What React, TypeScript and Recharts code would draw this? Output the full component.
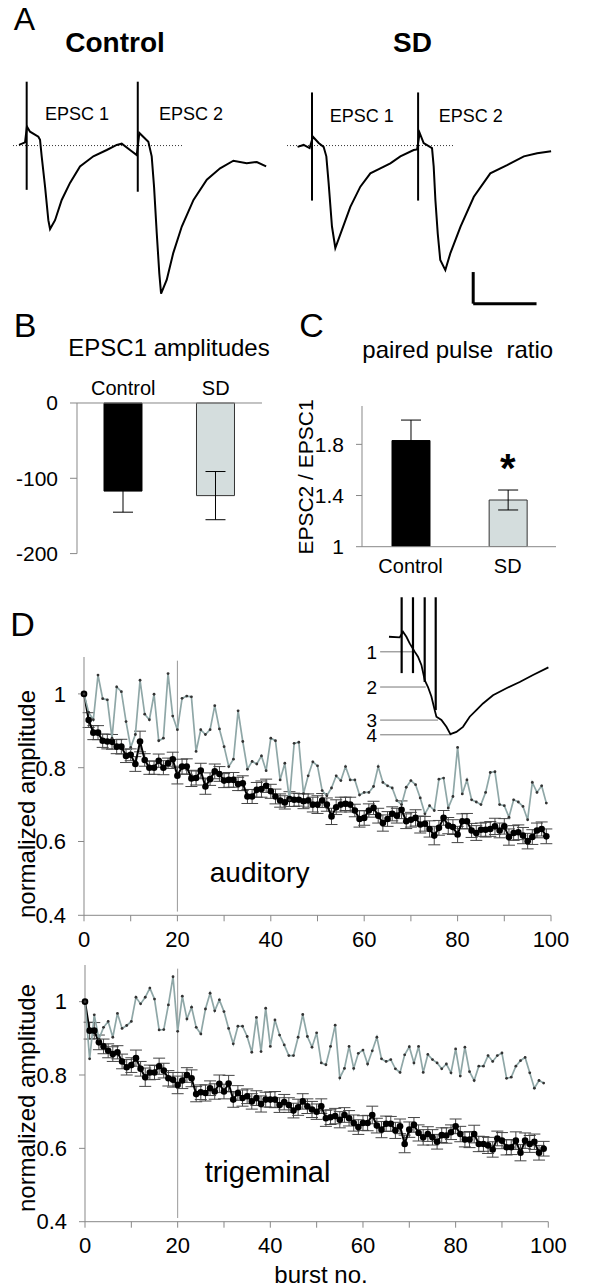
import React from 'react';
import {
  LineChart, Line, XAxis, YAxis, ReferenceLine, BarChart, Bar, Cell, ErrorBar, ComposedChart,
} from 'recharts';

const FONT = '"Liberation Sans", Arial, Helvetica, sans-serif';
const AXIS = '#888';
const GREY_LINE = '#8fa7a7';
const GREY_BAR = '#d4dddd';

// ---- panel A: example traces (t in ms, i in pA, baseline = 0) ----
const ctrlTrace = [
  { t: 0.95, i: 1 }, { t: 1.9, i: 5 }, { t: 2.2, i: 30 }, { t: 2.69, i: 22 }, { t: 4.0, i: 14 },
  { t: 4.27, i: 9 }, { t: 4.53, i: -17 }, { t: 5.06, i: -65 }, { t: 5.58, i: -118 }, { t: 5.85, i: -132 },
  { t: 6.64, i: -118 }, { t: 7.69, i: -86 }, { t: 9.0, i: -59 }, { t: 10.58, i: -33 }, { t: 12.69, i: -17 },
  { t: 14.8, i: -7 }, { t: 16.38, i: 1 }, { t: 17.17, i: 3 }, { t: 18.48, i: -7 }, { t: 19.54, i: -15 },
  { t: 19.95, i: 20 }, { t: 21.37, i: 6 }, { t: 21.9, i: -17 }, { t: 22.27, i: -65 }, { t: 22.7, i: -139 },
  { t: 23.1, i: -202 }, { t: 23.38, i: -234 }, { t: 24.28, i: -212 }, { t: 25.3, i: -170 }, { t: 26.65, i: -128 },
  { t: 28.5, i: -86 }, { t: 30.6, i: -54 }, { t: 32.7, i: -36 }, { t: 34.8, i: -24 }, { t: 36.9, i: -28 },
  { t: 38.5, i: -26 }, { t: 39.97, i: -33 },
];
const ctrlStimT = [2.16, 19.7];
const ctrlStimTop = [101, 101];
const ctrlStimBottom = [-70, -73];
const ctrlBaselineEnd = 26.7;

const sdTrace = [
  { t: 1.67, i: -2 }, { t: 2.62, i: 1 }, { t: 3.57, i: -4 }, { t: 4.1, i: 14 }, { t: 5.0, i: 4 },
  { t: 5.78, i: -2 }, { t: 6.21, i: -17 }, { t: 6.57, i: -59 }, { t: 7.1, i: -128 }, { t: 7.63, i: -162 },
  { t: 8.69, i: -133 }, { t: 10.0, i: -97 }, { t: 11.58, i: -65 }, { t: 13.16, i: -44 }, { t: 14.74, i: -36 },
  { t: 16.32, i: -28 }, { t: 17.9, i: -17 }, { t: 20.0, i: -7 }, { t: 20.54, i: -6 }, { t: 20.95, i: 20 },
  { t: 21.58, i: 4 }, { t: 22.9, i: -4 }, { t: 23.16, i: -33 }, { t: 23.43, i: -86 }, { t: 23.8, i: -139 },
  { t: 24.2, i: -181 }, { t: 25.0, i: -197 }, { t: 25.8, i: -170 }, { t: 27.4, i: -128 }, { t: 29.5, i: -81 },
  { t: 32.1, i: -44 }, { t: 34.75, i: -31 }, { t: 37.4, i: -17 }, { t: 39.5, i: -12 }, { t: 41.7, i: -9 },
];
const sdStimT = [3.95, 20.7];
const sdStimTop = [84, 84];
const sdStimBottom = [-87, -87];
const sdBaselineEnd = 26.3;
const scaleBarMs = 10;
const scaleBarPa = 50;
const scaleBarOrigin = { t: 29.4, i: -250 };

// ---- panel B ----
const ampCats = ['Control', 'SD'];
const ampMean = [-117, -123];
const ampSem = [28, 32];

// ---- panel C ----
const pprCats = ['Control', 'SD'];
const pprMean = [1.83, 1.365];
const pprSem = [0.16, 0.078];

// ---- panel D inset ----
const insetTrace = [
  { t: 0, i: 0.5 }, { t: 1.69, i: -0.5 }, { t: 2.21, i: 8.4 }, { t: 2.75, i: 0.5 }, { t: 3.27, i: -10 },
  { t: 4.06, i: -23 }, { t: 4.58, i: -31 }, { t: 5.12, i: -44 }, { t: 5.64, i: -68 }, { t: 6.16, i: -79 },
  { t: 6.7, i: -94 }, { t: 7.22, i: -115.5 }, { t: 7.49, i: -126 }, { t: 8.28, i: -131 }, { t: 9.07, i: -142 },
  { t: 9.7, i: -153.5 }, { t: 10.65, i: -150 }, { t: 11.69, i: -142 }, { t: 12.75, i: -126 }, { t: 13.8, i: -115.5 },
  { t: 14.85, i: -105 }, { t: 16.43, i: -92 }, { t: 18.55, i: -81 }, { t: 20.65, i: -71 }, { t: 22.75, i: -60 },
  { t: 25.18, i: -48 },
];
const insetStimT = [2.0, 3.79, 5.64, 7.38];
const insetStimTop = 63;
const insetStimBottom = [-57, -57, -71, -115.5];
const insetLevels = [-23.3, -79, -131.3, -154.6];
const insetLevelEnds = [4.06, 5.8, 7.74, 9.86];
const insetLevelNames = ['1', '2', '3', '4'];

// ---- panel D: normalized amplitudes per burst ----
const audGrey = [
  1.0, 0.95, 0.93, 1.051, 0.987, 0.984, 0.88, 1.019, 1.006, 0.925,
  0.855, 0.89, 1.037, 0.945, 0.93, 0.999, 0.873, 0.88, 1.055, 0.94,
  0.903, 0.988, 0.994, 0.992, 0.844, 0.903, 0.89, 0.903, 0.968, 0.905,
  0.857, 0.803, 0.823, 0.954, 0.871, 0.796, 0.817, 0.81, 0.832, 0.792,
  0.88, 0.873, 0.767, 0.812, 0.713, 0.866, 0.869, 0.73, 0.778, 0.816,
  0.805, 0.738, 0.724, 0.745, 0.778, 0.765, 0.803, 0.767, 0.767, 0.726,
  0.733, 0.733, 0.749, 0.803, 0.76, 0.751, 0.745, 0.711, 0.70, 0.747,
  0.765, 0.754, 0.718, 0.675, 0.697, 0.684, 0.769, 0.772, 0.691, 0.722,
  0.855, 0.729, 0.767, 0.713, 0.707, 0.70, 0.733, 0.787, 0.789, 0.70,
  0.697, 0.666, 0.713, 0.707, 0.695, 0.659, 0.76, 0.733, 0.751, 0.704,
];
const audBlack = [
  1.0, 0.929, 0.895, 0.895, 0.873, 0.871, 0.87, 0.857, 0.857, 0.832,
  0.835, 0.81, 0.871, 0.821, 0.80, 0.80, 0.819, 0.80, 0.812, 0.823,
  0.778, 0.803, 0.803, 0.771, 0.772, 0.792, 0.749, 0.769, 0.79, 0.783,
  0.765, 0.767, 0.767, 0.756, 0.758, 0.722, 0.722, 0.74, 0.742, 0.751,
  0.736, 0.722, 0.711, 0.706, 0.715, 0.713, 0.713, 0.709, 0.711, 0.70,
  0.70, 0.711, 0.70, 0.668, 0.693, 0.70, 0.702, 0.70, 0.684, 0.661,
  0.664, 0.684, 0.691, 0.67, 0.65, 0.661, 0.675, 0.67, 0.686, 0.655,
  0.659, 0.664, 0.646, 0.648, 0.634, 0.616, 0.637, 0.664, 0.643, 0.639,
  0.619, 0.655, 0.655, 0.63, 0.623, 0.632, 0.632, 0.634, 0.641, 0.63,
  0.641, 0.612, 0.623, 0.625, 0.616, 0.601, 0.612, 0.63, 0.634, 0.614,
];
const audErr = [
  0, 0.02, 0.019, 0.019, 0.018, 0.02, 0.02, 0.019, 0.02, 0.018,
  0.016, 0.02, 0.028, 0.017, 0.018, 0.018, 0.018, 0.019, 0.014, 0.019,
  0.022, 0.02, 0.021, 0.022, 0.019, 0.02, 0.021, 0.017, 0.02, 0.02,
  0.019, 0.02, 0.02, 0.018, 0.02, 0.019, 0.019, 0.02, 0.022, 0.018,
  0.019, 0.02, 0.018, 0.018, 0.02, 0.018, 0.017, 0.02, 0.018, 0.02,
  0.024, 0.019, 0.018, 0.022, 0.02, 0.02, 0.018, 0.02, 0.017, 0.022,
  0.02, 0.018, 0.018, 0.02, 0.022, 0.02, 0.019, 0.02, 0.024, 0.02,
  0.02, 0.022, 0.023, 0.02, 0.022, 0.025, 0.02, 0.02, 0.022, 0.02,
  0.022, 0.02, 0.021, 0.019, 0.02, 0.018, 0.02, 0.02, 0.022, 0.02,
  0.021, 0.022, 0.02, 0.02, 0.022, 0.021, 0.02, 0.02, 0.019, 0.02,
];

const triGrey = [
  1.0, 0.844, 0.964, 0.898, 0.93, 0.946, 0.903, 0.968, 0.927, 0.935,
  0.946, 1.012, 0.994, 1.012, 1.037, 1.007, 0.923, 0.924, 0.991, 1.068,
  0.919, 1.015, 0.953, 0.985, 0.93, 0.912, 0.98, 1.023, 0.975, 1.005,
  0.973, 0.927, 0.885, 0.933, 0.933, 0.905, 0.862, 0.957, 0.864, 0.982,
  0.878, 0.95, 0.909, 0.882, 0.853, 0.853, 0.903, 0.965, 0.905, 0.876,
  0.915, 0.833, 0.828, 0.878, 0.936, 0.792, 0.818, 0.878, 0.818, 0.859,
  0.868, 0.83, 0.866, 0.903, 0.844, 0.837, 0.842, 0.817, 0.807, 0.855,
  0.877, 0.833, 0.878, 0.807, 0.856, 0.842, 0.833, 0.817, 0.83, 0.806,
  0.871, 0.797, 0.876, 0.809, 0.785, 0.824, 0.824, 0.853, 0.837, 0.853,
  0.86, 0.791, 0.794, 0.824, 0.839, 0.848, 0.806, 0.764, 0.785, 0.778,
];
const triBlack = [
  1.0, 0.921, 0.921, 0.889, 0.878, 0.866, 0.857, 0.862, 0.837, 0.821,
  0.827, 0.846, 0.817, 0.794, 0.807, 0.807, 0.824, 0.812, 0.791, 0.787,
  0.773, 0.785, 0.80, 0.791, 0.748, 0.753, 0.751, 0.764, 0.755, 0.776,
  0.755, 0.777, 0.733, 0.751, 0.737, 0.742, 0.728, 0.737, 0.721, 0.733,
  0.733, 0.733, 0.718, 0.726, 0.718, 0.703, 0.712, 0.728, 0.715, 0.706,
  0.70, 0.715, 0.682, 0.685, 0.688, 0.678, 0.691, 0.682, 0.669, 0.658,
  0.669, 0.669, 0.691, 0.662, 0.651, 0.667, 0.667, 0.649, 0.66, 0.612,
  0.651, 0.664, 0.642, 0.63, 0.639, 0.63, 0.618, 0.636, 0.635, 0.644,
  0.66, 0.639, 0.624, 0.624, 0.639, 0.612, 0.612, 0.608, 0.597, 0.627,
  0.621, 0.603, 0.603, 0.621, 0.588, 0.621, 0.612, 0.618, 0.588, 0.599,
];
const triErr = [
  0, 0.023, 0.022, 0.02, 0.02, 0.019, 0.02, 0.018, 0.02, 0.021,
  0.02, 0.022, 0.02, 0.025, 0.02, 0.019, 0.022, 0.02, 0.021, 0.02,
  0.024, 0.022, 0.02, 0.023, 0.021, 0.02, 0.022, 0.02, 0.021, 0.024,
  0.02, 0.022, 0.021, 0.02, 0.022, 0.02, 0.021, 0.02, 0.022, 0.02,
  0.021, 0.022, 0.02, 0.021, 0.02, 0.02, 0.022, 0.021, 0.02, 0.022,
  0.021, 0.02, 0.022, 0.02, 0.021, 0.022, 0.02, 0.021, 0.022, 0.02,
  0.02, 0.021, 0.024, 0.02, 0.022, 0.021, 0.02, 0.022, 0.02, 0.024,
  0.021, 0.02, 0.022, 0.021, 0.02, 0.021, 0.02, 0.02, 0.021, 0.02,
  0.02, 0.021, 0.02, 0.022, 0.024, 0.021, 0.02, 0.022, 0.021, 0.02,
  0.022, 0.021, 0.02, 0.024, 0.022, 0.021, 0.023, 0.021, 0.02, 0.02,
];
const burstTicks = [0, 10, 20, 30, 40, 50, 60, 70, 80, 90, 100];
const ampTicks = [0.4, 0.6, 0.8, 1];
const markerBurst = 20;

const Txt: React.FC<{ x: number; y: number; size: number; bold?: boolean; rotate?: boolean; children: React.ReactNode }> = ({ x, y, size, bold, rotate, children }) => (
  <div
    style={{
      position: 'absolute', left: x, top: y, fontSize: size, fontWeight: bold ? 700 : 400,
      lineHeight: 0.9, whiteSpace: 'pre', color: '#000',
      transform: `translate(-50%, -50%)${rotate ? ' rotate(-90deg)' : ''}`,
    }}
  >
    {children}
  </div>
);

const Pos: React.FC<{ x: number; y: number; children: React.ReactNode }> = ({ x, y, children }) => (
  <div style={{ position: 'absolute', left: x, top: y }}>{children}</div>
);

const TraceChart: React.FC<{
  data: { t: number; i: number }[]; stimT: number[]; stimTop: number[]; stimBottom: number[]; baselineEnd: number; scaleBar?: boolean;
}> = ({ data, stimT, stimTop, stimBottom, baselineEnd, scaleBar }) => (
  <LineChart width={266} height={234} data={data} margin={{ top: 0, right: 0, bottom: 0, left: 0 }}>
    <XAxis type="number" dataKey="t" domain={[0, 42]} hide />
    <YAxis type="number" domain={[-260, 110]} hide />
    <ReferenceLine segment={[{ x: 0, y: 0 }, { x: baselineEnd, y: 0 }]} stroke="#333" strokeDasharray="1 2" />
    {stimT.map((t, k) => (
      <ReferenceLine key={k} segment={[{ x: t, y: stimTop[k] }, { x: t, y: stimBottom[k] }]} stroke="#000" strokeWidth={2} />
    ))}
    {scaleBar && (
      <ReferenceLine segment={[{ x: scaleBarOrigin.t, y: scaleBarOrigin.i + scaleBarPa }, { x: scaleBarOrigin.t, y: scaleBarOrigin.i }]} stroke="#000" strokeWidth={3} />
    )}
    {scaleBar && (
      <ReferenceLine segment={[{ x: scaleBarOrigin.t, y: scaleBarOrigin.i }, { x: scaleBarOrigin.t + scaleBarMs, y: scaleBarOrigin.i }]} stroke="#000" strokeWidth={3} />
    )}
    <Line type="linear" dataKey="i" stroke="#000" strokeWidth={2} dot={false} isAnimationActive={false} />
  </LineChart>
);

const BurstChart: React.FC<{
  grey: number[]; black: number[]; err: number[]; plotLeft: number; plotWidth: number; plotHeight: number;
}> = ({ grey, black, err, plotLeft, plotWidth, plotHeight }) => {
  const rows = black.map((b, n) => ({ n, black: b, grey: grey[n], err: err[n] }));
  return (
    <ComposedChart width={plotLeft + plotWidth + 25} height={plotHeight + 40} data={rows} margin={{ top: 0, right: 25, bottom: 0, left: 0 }}>
      <XAxis
        type="number" dataKey="n" domain={[0, 100]} ticks={burstTicks} height={40} interval={0}
        tickFormatter={(v: number) => (v % 20 === 0 ? String(v) : '')}
        tick={{ fontSize: 22, fill: '#000', fontFamily: FONT }} tickSize={6} tickMargin={10}
        axisLine={{ stroke: AXIS }} tickLine={{ stroke: AXIS }}
      />
      <YAxis
        type="number" domain={[0.4, 1.1]} ticks={ampTicks} width={plotLeft} allowDataOverflow interval={0}
        tickFormatter={(v: number) => (v === 1 ? '1' : v.toFixed(1))}
        tick={{ fontSize: 22, fill: '#000', fontFamily: FONT }} tickSize={6} tickMargin={12}
        axisLine={{ stroke: AXIS }} tickLine={{ stroke: AXIS }}
      />
      <ReferenceLine segment={[{ x: markerBurst, y: 1.09 }, { x: markerBurst, y: 0.41 }]} stroke="#999" />
      <Line type="linear" dataKey="black" stroke="#000" strokeWidth={2} dot={{ r: 3.3, fill: '#000', stroke: 'none' }} isAnimationActive={false}>
        <ErrorBar dataKey="err" width={6} stroke="#444" strokeWidth={1} direction="y" />
      </Line>
      <Line type="linear" dataKey="grey" stroke={GREY_LINE} strokeWidth={1.7} dot={{ r: 1.4, fill: '#333', stroke: 'none' }} isAnimationActive={false} />
    </ComposedChart>
  );
};

export default function App() {
  const ampData = ampCats.map((c, k) => ({ cat: c, mean: ampMean[k], sem: ampSem[k] }));
  const pprData = pprCats.map((c, k) => ({ cat: c, mean: pprMean[k], sem: pprSem[k] }));
  const barFill = (k: number) => (k === 0 ? '#000' : GREY_BAR);

  return (
    <div style={{ position: 'absolute', left: 0, top: 0, width: 600, height: 1287, background: '#fff', fontFamily: FONT, overflow: 'hidden' }}>
      {/* A: traces */}
      <Pos x={13} y={76.2}>
        <TraceChart data={ctrlTrace} stimT={ctrlStimT} stimTop={ctrlStimTop} stimBottom={ctrlStimBottom} baselineEnd={ctrlBaselineEnd} />
      </Pos>
      <Pos x={286.7} y={76.2}>
        <TraceChart data={sdTrace} stimT={sdStimT} stimTop={sdStimTop} stimBottom={sdStimBottom} baselineEnd={sdBaselineEnd} scaleBar />
      </Pos>

      {/* B: EPSC1 amplitudes */}
      <Pos x={7} y={366.7}>
        <BarChart width={255} height={208.6} data={ampData} margin={{ top: 12, right: 0, bottom: 22, left: 0 }}>
          <XAxis dataKey="cat" orientation="top" height={24} axisLine={false} tickLine={false} interval={0}
            tick={{ fontSize: 20, fill: '#000', fontFamily: FONT }} />
          <YAxis type="number" domain={[-200, 0]} ticks={[-200, -100, 0]} width={70} interval={0}
            tick={{ fontSize: 21, fill: '#000', fontFamily: FONT }} tickSize={7} tickMargin={12}
            axisLine={{ stroke: AXIS }} tickLine={{ stroke: AXIS }} />
          <ReferenceLine y={0} stroke={AXIS} />
          <Bar dataKey="mean" barSize={38} isAnimationActive={false}>
            {ampData.map((_, k) => (
              <Cell key={k} fill={barFill(k)} stroke={k === 0 ? '#000' : '#333'} strokeWidth={1} />
            ))}
            <ErrorBar dataKey="sem" width={10} stroke="#000" strokeWidth={1} direction="y" />
          </Bar>
        </BarChart>
      </Pos>

      {/* C: paired pulse ratio */}
      <Pos x={301.5} y={396}>
        <BarChart width={254.3} height={180.7} data={pprData} margin={{ top: 10, right: 0, bottom: 0, left: 0 }}>
          <XAxis dataKey="cat" height={30} tickLine={false} axisLine={{ stroke: AXIS }} tickMargin={6} interval={0}
            tick={{ fontSize: 20, fill: '#000', fontFamily: FONT }} />
          <YAxis type="number" domain={[1, 2.1]} ticks={[1, 1.4, 1.8]} width={60} allowDataOverflow interval={0}
            tickFormatter={(v: number) => String(v)}
            tick={{ fontSize: 21, fill: '#000', fontFamily: FONT }} tickSize={6} tickMargin={12}
            axisLine={{ stroke: AXIS }} tickLine={{ stroke: AXIS }} />
          <Bar dataKey="mean" barSize={38} isAnimationActive={false}>
            {pprData.map((_, k) => (
              <Cell key={k} fill={barFill(k)} stroke={k === 0 ? '#000' : '#333'} strokeWidth={1} />
            ))}
            <ErrorBar dataKey="sem" width={10} stroke="#000" strokeWidth={1} direction="y" />
          </Bar>
        </BarChart>
      </Pos>

      {/* D: burst plots */}
      <Pos x={0} y={656.7}>
        <BurstChart grey={audGrey} black={audBlack} err={audErr} plotLeft={84} plotWidth={467} plotHeight={258.3} />
      </Pos>
      <Pos x={0} y={965}>
        <BurstChart grey={triGrey} black={triBlack} err={triErr} plotLeft={85} plotWidth={463.3} plotHeight={256.7} />
      </Pos>

      {/* D inset */}
      <Pos x={351.3} y={595.9}>
        <LineChart width={202.6} height={161.2} data={insetTrace} margin={{ top: 0, right: 0, bottom: 0, left: 0 }}>
          <XAxis type="number" dataKey="t" domain={[-6, 26]} hide />
          <YAxis type="number" domain={[-190, 65]} hide />
          {insetLevels.map((lv, k) => (
            <ReferenceLine key={`l${k}`} segment={[{ x: -1.4, y: lv }, { x: insetLevelEnds[k], y: lv }]} stroke="#777"
              label={{ value: insetLevelNames[k], position: 'left', offset: 3, fontSize: 19, fill: '#000', fontFamily: FONT }} />
          ))}
          {insetStimT.map((t, k) => (
            <ReferenceLine key={`s${k}`} segment={[{ x: t, y: insetStimTop }, { x: t, y: insetStimBottom[k] }]} stroke="#000" strokeWidth={2.2} />
          ))}
          <Line type="linear" dataKey="i" stroke="#000" strokeWidth={1.8} dot={false} isAnimationActive={false} />
        </LineChart>
      </Pos>

      {/* text */}
      <Txt x={24.5} y={18.5} size={32}>A</Txt>
      <Txt x={115} y={43} size={28} bold>Control</Txt>
      <Txt x={412.5} y={43} size={28} bold>SD</Txt>
      <Txt x={77} y={113.5} size={18}>EPSC 1</Txt>
      <Txt x={191} y={113.5} size={18}>EPSC 2</Txt>
      <Txt x={361.7} y={115.5} size={18}>EPSC 1</Txt>
      <Txt x={470.8} y={115.5} size={18}>EPSC 2</Txt>

      <Txt x={25} y={325} size={34}>B</Txt>
      <Txt x={169} y={348} size={24}>EPSC1 amplitudes</Txt>
      <Txt x={311.5} y={324.5} size={34}>C</Txt>
      <Txt x={457.7} y={350} size={24}>paired pulse  ratio</Txt>
      <Txt x={305.8} y={476.7} size={21} rotate>EPSC2 / EPSC1</Txt>
      <Txt x={507.7} y={468} size={40} bold>*</Txt>

      <Txt x={22.5} y={623.5} size={34}>D</Txt>
      <Txt x={26.7} y={804} size={24} rotate>normalized amplitude</Txt>
      <Txt x={259.6} y={873} size={28}>auditory</Txt>
      <Txt x={26.7} y={1097.5} size={24} rotate>normalized amplitude</Txt>
      <Txt x={267.5} y={1171.7} size={29}>trigeminal</Txt>
      <Txt x={321} y={1275} size={24}>burst no.</Txt>
    </div>
  );
}
